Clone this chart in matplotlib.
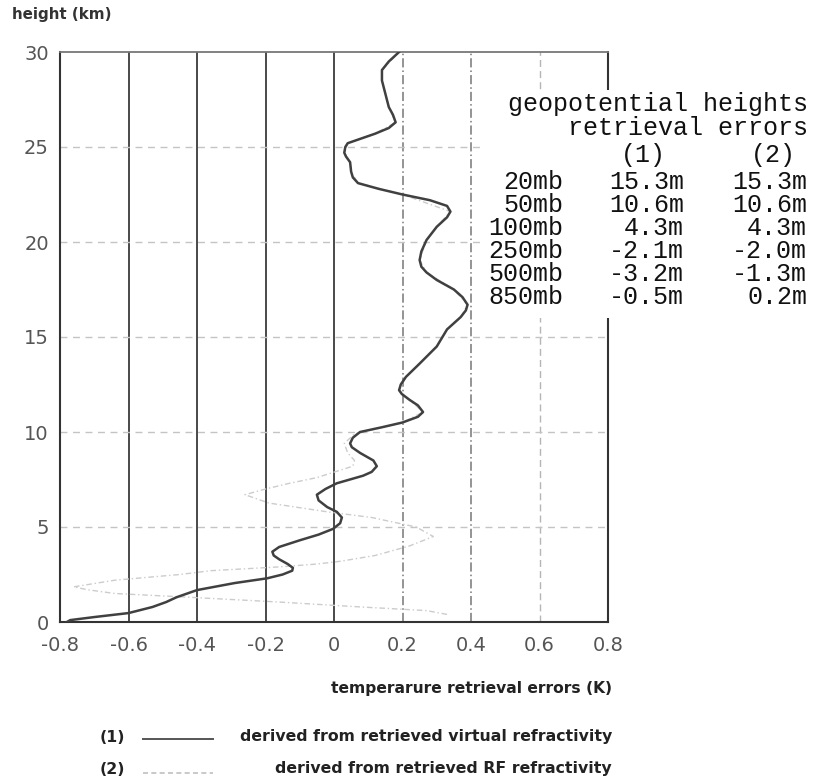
import matplotlib
matplotlib.use("Agg")
import matplotlib.pyplot as plt
from matplotlib.lines import Line2D
from matplotlib.patches import Rectangle

# curve (1): derived from retrieved virtual refractivity
height_1 = [0.0, 0.1, 0.26, 0.47, 0.79, 1.05, 1.3, 1.68, 2.05, 2.3, 2.5, 2.7,
            2.85, 3.05, 3.3, 3.5, 3.7, 3.95, 4.3, 4.6, 4.9, 5.2, 5.5, 5.8,
            6.05, 6.4, 6.7, 7.0, 7.3, 7.7, 7.9, 8.2, 8.5, 8.9, 9.2, 9.4, 9.7,
            10.0, 10.25, 10.5, 10.8, 11.05, 11.4, 11.7, 12.0, 12.2, 12.5, 12.9,
            13.6, 14.5, 15.4, 16.05, 16.4, 16.7, 17.1, 17.5, 18.0, 18.4, 18.7,
            19.05, 19.5, 20.1, 20.8, 21.3, 21.6, 21.9, 22.2, 22.5, 22.8, 23.1,
            23.4, 23.7, 24.2, 24.5, 24.7, 25.0, 25.2, 25.45, 25.7, 26.0, 26.3,
            26.7, 27.1, 27.8, 28.5, 29.05, 29.5, 30.0]
error_1 = [-0.78, -0.77, -0.7, -0.6, -0.53, -0.49, -0.46, -0.4, -0.29, -0.195,
           -0.15, -0.122, -0.12, -0.135, -0.16, -0.176, -0.18, -0.16, -0.1,
           -0.045, -0.003, 0.018, 0.023, 0.008, -0.02, -0.045, -0.05, -0.025,
           0.008, 0.085, 0.11, 0.125, 0.115, 0.076, 0.052, 0.047, 0.055, 0.076,
           0.14, 0.2, 0.245, 0.26, 0.245, 0.22, 0.198, 0.19, 0.195, 0.21, 0.25,
           0.30, 0.33, 0.37, 0.385, 0.39, 0.375, 0.35, 0.30, 0.27, 0.255, 0.25,
           0.255, 0.27, 0.30, 0.33, 0.34, 0.33, 0.28, 0.2, 0.13, 0.07, 0.055,
           0.05, 0.047, 0.035, 0.03, 0.033, 0.04, 0.08, 0.12, 0.16, 0.18, 0.172,
           0.16, 0.15, 0.14, 0.14, 0.16, 0.19]

# curve (2): derived from retrieved RF refractivity
height_2 = [0.4, 0.6, 0.8, 1.05, 1.3, 1.5, 1.7, 1.85, 2.2, 2.5, 2.7, 2.9, 3.05,
            3.2, 3.5, 4.0, 4.5, 5.0, 5.5, 5.8, 6.26, 6.7, 7.0, 7.3, 7.6, 8.2,
            8.5, 8.9, 9.4, 9.9, 10.5, 11.05, 11.7, 12.2, 12.9, 13.6, 14.5, 15.4,
            16.05, 16.7, 17.5, 18.4, 19.05, 20.1, 20.8, 21.6, 22.5, 23.1, 23.7,
            24.2, 24.7, 25.2, 25.7, 26.3, 27.1, 28.5, 29.05, 30.0]
error_2 = [0.33, 0.27, 0.07, -0.16, -0.42, -0.64, -0.72, -0.76, -0.64, -0.45,
           -0.36, -0.16, -0.05, 0.02, 0.12, 0.22, 0.29, 0.24, 0.11, -0.02, -0.19,
           -0.26, -0.2, -0.13, -0.05, 0.055, 0.06, 0.04, 0.03, 0.06, 0.2, 0.26,
           0.22, 0.19, 0.21, 0.25, 0.30, 0.33, 0.37, 0.39, 0.35, 0.27, 0.25,
           0.27, 0.30, 0.34, 0.2, 0.07, 0.05, 0.047, 0.03, 0.04, 0.12, 0.18,
           0.16, 0.14, 0.14, 0.19]

x_ticks = [-0.8, -0.6, -0.4, -0.2, 0, 0.2, 0.4, 0.6, 0.8]
x_tick_labels = ["-0.8", "-0.6", "-0.4", "-0.2", "0", "0.2", "0.4", "0.6", "0.8"]
y_ticks = [0, 5, 10, 15, 20, 25, 30]

# geopotential height table
levels = ["20mb", "50mb", "100mb", "250mb", "500mb", "850mb"]
geo_err_1 = ["15.3m", "10.6m", "4.3m", "-2.1m", "-3.2m", "-0.5m"]
geo_err_2 = ["15.3m", "10.6m", "4.3m", "-2.0m", "-1.3m", "0.2m"]

W, H = 813, 781


def fx(px):
    return px / W


def fy(py):
    return 1 - py / H


fig = plt.figure(figsize=(W / 100, H / 100), dpi=100)
ax = fig.add_axes([fx(60), fy(622), fx(608) - fx(60), fy(52) - fy(622)])

ax.set_xlim(-0.8, 0.8)
ax.set_ylim(0, 30)

# grid lines
for x in [-0.6, -0.4, -0.2, 0]:
    ax.axvline(x, color="#3a3a3a", lw=1.3, zorder=1)
for x in [0.2, 0.4]:
    ax.axvline(x, color="#777777", lw=1.1, ls=(0, (6, 2, 1, 2)), zorder=1)
ax.axvline(0.6, color="#b5b5b5", lw=1.0, ls=(0, (5, 3)), zorder=1)
for y in [5, 10, 15, 20, 25]:
    ax.axhline(y, color="#c4c4c4", lw=1.0, ls=(0, (5, 4)), zorder=1)

ax.plot(error_2, height_2, color="#cccccc", lw=1.0, ls=(0, (4, 2, 1, 2)), zorder=2)
ax.plot(error_1, height_1, color="#404040", lw=1.8, zorder=3,
        solid_joinstyle="round")

ax.set_xticks(x_ticks)
ax.set_xticklabels(x_tick_labels)
ax.set_yticks(y_ticks)
ax.tick_params(length=0, labelsize=14, labelcolor="#555555")
ax.tick_params(axis="x", pad=10)
ax.tick_params(axis="y", pad=8)
for side in ["left", "bottom", "right"]:
    ax.spines[side].set_linewidth(1.5)
    ax.spines[side].set_color("#333333")
ax.spines["top"].set_linewidth(1.3)
ax.spines["top"].set_color("#777777")

fig.text(fx(12), fy(14), "height (km)", fontsize=10.9, fontweight="bold",
         color="#333333", va="center", ha="left")
fig.text(fx(612), fy(688), "temperarure retrieval errors (K)", fontsize=11.2,
         fontweight="bold", color="#222222", va="center", ha="right")

# white panel behind the table, covering part of the frame
fig.patches.append(Rectangle((fx(482), fy(318)), fx(813) - fx(482), fy(90) - fy(318),
                             transform=fig.transFigure, facecolor="white",
                             edgecolor="none", zorder=4))

mono = "Liberation Mono"
tkw = dict(family=mono, fontsize=18, color="#111111", va="center", zorder=5)
fig.text(fx(808), fy(104), "geopotential heights", ha="right", **tkw)
fig.text(fx(808), fy(128), "retrieval errors", ha="right", **tkw)
fig.text(fx(643), fy(155), "(1)", ha="center", **tkw)
fig.text(fx(773), fy(155), "(2)", ha="center", **tkw)
for i, (lev, e1, e2) in enumerate(zip(levels, geo_err_1, geo_err_2)):
    py = 182 + i * 23
    fig.text(fx(563), fy(py), lev, ha="right", **tkw)
    fig.text(fx(684), fy(py), e1, ha="right", **tkw)
    fig.text(fx(807), fy(py), e2, ha="right", **tkw)

# legend
lkw = dict(fontsize=11.3, fontweight="bold", color="#222222", va="center")
fig.text(fx(100), fy(738), "(1)", ha="left", **lkw)
fig.text(fx(100), fy(770), "(2)", ha="left", **lkw)
fig.add_artist(Line2D([fx(143), fx(213)], [fy(739), fy(739)], color="#555555",
                      lw=1.4, transform=fig.transFigure))
fig.add_artist(Line2D([fx(143), fx(213)], [fy(773), fy(773)], color="#c0c0c0",
                      lw=1.2, ls=(0, (3, 2)), transform=fig.transFigure))
fig.text(fx(612), fy(736), "derived from retrieved virtual refractivity",
         ha="right", **lkw)
fig.text(fx(612), fy(768), "derived from retrieved RF refractivity",
         ha="right", **lkw)

fig.savefig("out.png", dpi=100)
